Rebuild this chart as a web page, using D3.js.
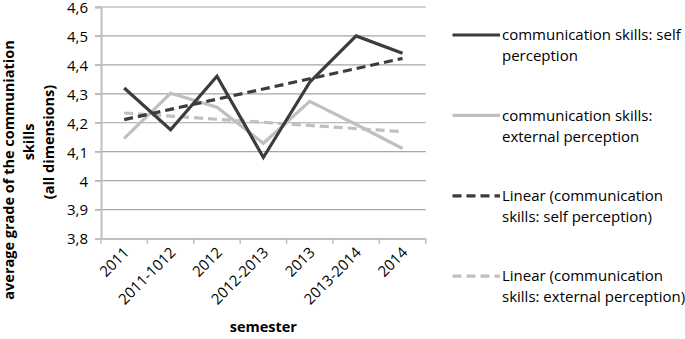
<!DOCTYPE html>
<html><head><meta charset="utf-8">
<script src="https://cdn.jsdelivr.net/npm/d3@7/dist/d3.min.js"></script>
<style>body{margin:0;background:#fff}svg{display:block}</style>
</head><body>
<svg id="c" width="685" height="339"></svg>
<script>
const categories = ["2011","2011-1012","2012","2012-2013","2013","2013-2014","2014"];
const selfPerception = [4.32,4.176,4.361,4.08,4.34,4.5,4.44];
const externalPerception = [4.146,4.302,4.254,4.129,4.274,4.194,4.111];
const yTicks = [3.8,3.9,4.0,4.1,4.2,4.3,4.4,4.5,4.6];
const legendLabels = [
  ["communication skills: self","perception"],
  ["communication skills:","external perception"],
  ["Linear (communication","skills: self perception)"],
  ["Linear (communication","skills: external perception)"]
];
const yTitleLines = ["average grade of the communiation","skills","(all dimensions)"];
const xTitle = "semester";

const FONT = "'Open Sans', sans-serif";
const FS = 15;
const TFS = 14.5;
const dark = "#3c3c3c", light = "#c0c0c0";
const svg = d3.select("#c");
const L = 101, R = 425.7, T = 7, B = 238.5;
const x = d3.scaleBand().domain(categories).range([L, R]);
const y = d3.scaleLinear().domain([3.8, 4.6]).range([B, T]);

// gridlines
svg.append("g").selectAll("line").data(yTicks.slice(1)).join("line")
  .attr("x1", L - 6).attr("x2", R).attr("y1", d => y(d)).attr("y2", d => y(d))
  .attr("stroke", "#a6a6a6").attr("stroke-width", 1.2);

// y axis
const ya = svg.append("g").attr("transform", `translate(${L},0)`)
  .call(d3.axisLeft(y).tickValues(yTicks).tickSize(6).tickFormat(d => d3.format(".1f")(d).replace(".0","").replace(".", ",")));
ya.select(".domain").attr("stroke", "#bfbfbf").attr("stroke-width", 2);
ya.selectAll(".tick line").attr("stroke", "#bfbfbf").attr("stroke-width", 1.5);
ya.selectAll("text").attr("font-family", FONT).attr("font-size", FS).attr("fill", "#000").attr("x", -13).attr("dy", "0.36em");

// x axis
const xa = svg.append("g").attr("transform", `translate(0,${B})`)
  .call(d3.axisBottom(x).tickSize(0).tickFormat(""));
xa.select(".domain").attr("stroke", "#bfbfbf").attr("stroke-width", 2);
const bounds = categories.map((c,i) => x(c)).concat([R]);
svg.append("g").selectAll("line").data(bounds).join("line")
  .attr("x1", d => d).attr("x2", d => d).attr("y1", B).attr("y2", B + 5.5)
  .attr("stroke", "#bfbfbf").attr("stroke-width", 1.5);
svg.append("g").selectAll("text").data(categories).join("text")
  .attr("transform", d => `translate(${x(d) + x.bandwidth()/2 + 6},${B + 15}) rotate(-45)`)
  .attr("text-anchor", "end").attr("font-family", FONT).attr("font-size", FS).text(d => d);

// titles
svg.append("text").attr("x", (L + R) / 2).attr("y", 332).attr("text-anchor", "middle")
  .attr("font-family", FONT).attr("font-size", TFS).attr("font-weight", "bold").text(xTitle);
const yCenters = [[14, 170],[34, 142],[54, 142]];
yTitleLines.forEach((t, i) => {
  svg.append("text").attr("transform", `translate(${yCenters[i][0]},${yCenters[i][1]}) rotate(-90)`)
    .attr("text-anchor", "middle").attr("font-family", FONT).attr("font-size", TFS)
    .attr("font-weight", "bold").text(t);
});

// trend lines (linear regression, as the chart's "Linear" trendlines)
function trend(vals) {
  const xs = vals.map((v, i) => i + 1);
  const mx = d3.mean(xs), my = d3.mean(vals);
  const b = d3.sum(xs.map((xi, i) => (xi - mx) * (vals[i] - my))) / d3.sum(xs.map(xi => (xi - mx) ** 2));
  return xs.map(xi => my + b * (xi - mx));
}
const cx = c => x(c) + x.bandwidth() / 2;
const line = d3.line().x((d, i) => cx(categories[i])).y(d => y(d));

svg.append("path").datum(trend(externalPerception)).attr("d", line).attr("fill", "none")
  .attr("stroke", light).attr("stroke-width", 3.2).attr("stroke-dasharray", "9,5");
svg.append("path").datum(externalPerception).attr("d", line).attr("fill", "none")
  .attr("stroke", light).attr("stroke-width", 3.2);
svg.append("path").datum(trend(selfPerception)).attr("d", line).attr("fill", "none")
  .attr("stroke", dark).attr("stroke-width", 3.2).attr("stroke-dasharray", "9,5");
svg.append("path").datum(selfPerception).attr("d", line).attr("fill", "none")
  .attr("stroke", dark).attr("stroke-width", 3.2).attr("stroke-linejoin", "miter");

// legend
const styles = [[dark, null],[light, null],[dark, "9,5"],[light, "9,5"]];
legendLabels.forEach((lines, i) => {
  const yy = 35 + i * 80.4;
  svg.append("line").attr("x1", 452.5).attr("x2", 500).attr("y1", yy).attr("y2", yy)
    .attr("stroke", styles[i][0]).attr("stroke-width", 3.2)
    .attr("stroke-dasharray", styles[i][1]);
  lines.forEach((t, j) => {
    svg.append("text").attr("x", 502).attr("y", yy + j * 21).attr("dy", "0.35em")
      .attr("font-family", FONT).attr("font-size", FS).text(t);
  });
});
</script>
</body></html>
